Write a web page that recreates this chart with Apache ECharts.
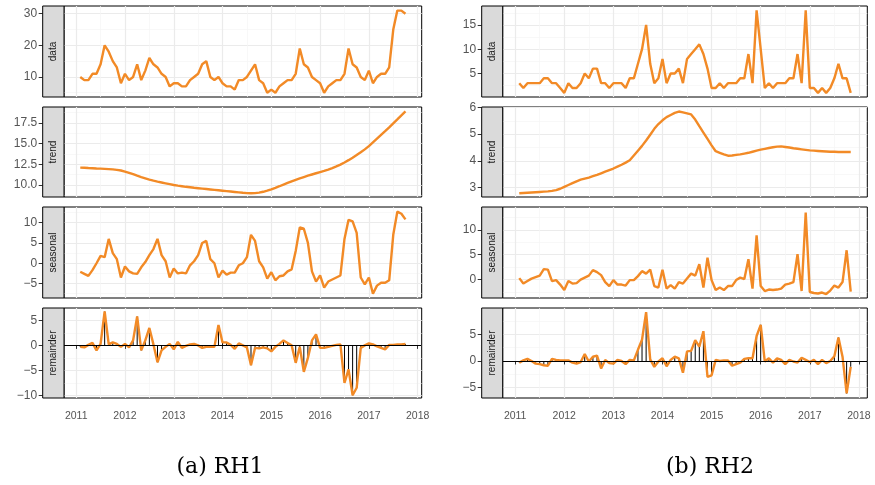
<!DOCTYPE html>
<html>
<head>
<meta charset="utf-8">
<script src="https://cdn.jsdelivr.net/npm/echarts@6/dist/echarts.min.js"></script>
<style>
html, body { margin: 0; padding: 0; background: #fff; }
#chart { width: 875px; height: 485px; }
</style>
</head>
<body>
<div id="chart"></div>
<script>
// monthly series, first month = Feb 2011
var startYear = 2011, startMonth = 2;
var rowNames = ['data', 'trend', 'seasonal', 'remainder'];
var captions = ['(a) RH1', '(b) RH2'];
var yearTicks = [2011, 2012, 2013, 2014, 2015, 2016, 2017, 2018];
var yearMinor = [2011.5, 2012.5, 2013.5, 2014.5, 2015.5, 2016.5, 2017.5];

// RH1 : Feb 2011 - Oct 2017
var rh1Data = [10, 9, 9, 11, 11, 14, 20, 18, 15, 13, 8,
    11, 9, 10, 14, 9, 12, 16, 14, 13, 11, 10, 7,
    8, 8, 7, 7, 9, 10, 11, 14, 15, 10, 9, 10,
    8, 7, 7, 6, 9, 9, 10, 12, 14, 9, 8, 5,
    6, 5, 7, 8, 9, 9, 11, 19, 14, 13, 10, 9,
    8, 5, 7, 8, 9, 9, 11, 19, 14, 13, 10, 9,
    12, 8, 10, 11, 11, 13, 25, 31, 31, 30];
var rh1Trend = [12.10, 12.08, 12.05, 12.03, 12.00, 11.98, 11.95, 11.92, 11.88, 11.83, 11.75,
    11.62, 11.47, 11.30, 11.12, 10.95, 10.80, 10.65, 10.52, 10.40, 10.30, 10.20, 10.10,
    10.00, 9.92, 9.85, 9.78, 9.72, 9.66, 9.61, 9.56, 9.51, 9.46, 9.41, 9.36,
    9.31, 9.26, 9.21, 9.16, 9.11, 9.06, 9.02, 9.00, 9.02, 9.08, 9.18, 9.32,
    9.48, 9.66, 9.85, 10.05, 10.25, 10.45, 10.63, 10.80, 10.96, 11.12, 11.27, 11.42,
    11.56, 11.70, 11.86, 12.04, 12.24, 12.46, 12.72, 13.00, 13.30, 13.62, 13.95, 14.30,
    14.70, 15.15, 15.60, 16.05, 16.50, 16.97, 17.45, 17.93, 18.42, 18.90];
var rh1Seasonal = [-2.1, -2.6, -3.1, -1.7, 0.0, 1.8, 1.5, 6.0, 2.5, 1.0, -3.5,
    -0.8, -2.0, -2.5, -2.6, -1.0, 0.3, 2.0, 3.5, 6.0, 2.0, 0.5, -3.5,
    -1.3, -2.5, -2.3, -2.5, -0.5, 0.5, 2.0, 5.0, 5.5, 1.0, 0.0, -3.5,
    -1.8, -2.8, -2.3, -2.3, -0.5, 0.0, 1.5, 7.0, 5.5, 0.5, -1.0, -3.8,
    -2.2, -4.2, -3.2, -3.0, -2.0, -1.5, 3.0, 8.8, 8.5, 5.0, -2.0, -4.5,
    -3.0, -6.0, -4.5, -4.0, -3.5, -3.0, 6.0, 10.7, 10.3, 7.5, -3.5, -5.2,
    -3.5, -7.5, -5.5, -4.8, -4.8, -4.2, 7.0, 12.7, 12.2, 10.8];
var rh1Remainder = [-0.3, -0.4, 0.1, 0.5, -1.0, 0.3, 6.8, 0.2, 0.6, 0.3, -0.3,
    0.3, -0.4, 1.0, 5.8, -1.0, 1.0, 3.5, 0.2, -3.4, -1.0, -0.3, 0.3,
    -0.8, 0.7, -0.5, -0.1, 0.2, 0.3, 0.0, -0.5, -0.3, -0.3, -0.3, 4.1,
    0.6, 0.6, 0.1, -0.7, 0.4, 0.0, -0.4, -4.0, -0.5, -0.6, -0.4, -0.6,
    -1.2, -0.3, 0.3, 1.0, 0.5, 0.0, -3.5, -0.3, -5.3, -2.5, 1.0, 2.2,
    -0.5, -0.5, -0.3, -0.1, 0.1, 0.2, -7.5, -4.8, -10.0, -8.5, -0.5, 0.0,
    0.4, 0.2, -0.2, -0.5, -0.8, 0.1, 0.1, 0.2, 0.2, 0.3];
var rh1Ticks = [[10, 20, 30], [10, 12.5, 15, 17.5], [-5, 0, 5, 10], [-10, -5, 0, 5]];
var rh1Minor = [[5, 15, 25], [8.75, 11.25, 13.75, 16.25, 18.75], [-7.5, -2.5, 2.5, 7.5, 12.5], [-7.5, -2.5, 2.5]];
var rh1Range = [[3.65, 32.45], [8.55, 19.42], [-8.55, 13.85], [-10.55, 7.5]];

// RH2 : Feb 2011 - Nov 2017
var rh2Data = [3, 2, 3, 3, 3, 3, 4, 4, 3, 3, 2,
    1, 3, 2, 2, 3, 5, 4, 6, 6, 3, 3, 2,
    3, 3, 3, 2, 4, 4, 7, 10, 15, 7, 3, 4,
    8, 3, 5, 5, 6, 3, 8, 9, 10, 11, 9, 6,
    2, 2, 3, 2, 3, 3, 3, 4, 4, 9, 3, 18,
    10, 2, 3, 2, 3, 3, 3, 4, 4, 9, 3, 18,
    2, 2, 1, 2, 1, 2, 4, 7, 4, 4, 1];
var rh2Trend = [2.78, 2.79, 2.80, 2.81, 2.82, 2.83, 2.84, 2.85, 2.87, 2.90, 2.95,
    3.02, 3.09, 3.16, 3.23, 3.29, 3.33, 3.37, 3.42, 3.47, 3.53, 3.59, 3.65,
    3.71, 3.78, 3.85, 3.93, 4.02, 4.20, 4.38, 4.56, 4.76, 4.98, 5.20, 5.38,
    5.52, 5.64, 5.72, 5.80, 5.85, 5.82, 5.78, 5.74, 5.55, 5.30, 5.06, 4.82,
    4.58, 4.36, 4.30, 4.24, 4.19, 4.20, 4.22, 4.24, 4.27, 4.30, 4.34, 4.38,
    4.42, 4.45, 4.48, 4.51, 4.53, 4.54, 4.52, 4.50, 4.47, 4.45, 4.43, 4.41,
    4.39, 4.38, 4.37, 4.36, 4.35, 4.34, 4.34, 4.33, 4.33, 4.33, 4.33];
var rh2Seasonal = [0.3, -0.8, -0.3, 0.2, 0.5, 0.8, 2.1, 2.0, -0.3, -0.1, -1.0,
    -2.1, -0.3, -0.8, -0.7, 0.0, 0.4, 0.8, 1.9, 1.5, 0.9, -0.5, -1.3,
    -0.1, -1.0, -1.0, -1.2, -0.1, -0.1, 0.7, 1.7, 1.2, 2.0, -1.3, -1.6,
    2.0, -1.8, -1.1, -1.8, -0.5, -0.8, 0.2, 1.2, 0.8, 3.1, -1.6, 4.4,
    -0.1, -2.1, -1.6, -2.1, -1.3, -1.3, -0.1, 0.4, 0.1, 4.1, -1.8, 8.9,
    -1.3, -2.3, -2.0, -2.1, -2.0, -1.8, -1.0, -0.8, -0.5, 5.1, -2.3, 13.5,
    -2.5, -2.7, -2.8, -2.6, -2.9, -2.2, -1.2, -1.6, -0.5, 5.9, -2.4];
var rh2Remainder = [-0.3, 0.1, 0.4, 0.0, -0.5, -0.6, -0.8, -0.9, 0.4, 0.2, 0.1,
    0.1, 0.1, -0.3, -0.5, -0.2, 1.3, -0.1, 0.8, 1.0, -1.4, 0.2, -0.4,
    -0.5, 0.2, 0.0, -0.6, 0.2, 0.1, 2.1, 4.0, 9.2, 0.3, -1.1, -0.1,
    0.5, -1.0, 0.2, 0.8, 0.5, -2.2, 1.8, 1.9, 3.9, 2.7, 5.6, -3.0,
    -2.7, 0.2, 0.0, 0.1, 0.1, -0.9, -0.6, -0.3, 0.4, 0.5, 0.5, 4.7,
    6.8, -0.1, 0.5, -0.3, 0.5, 0.2, -0.6, 0.2, -0.1, -0.3, 0.6, 0.2,
    -0.2, 0.2, -0.6, 0.2, -0.4, 0.0, 0.9, 4.4, 0.8, -6.1, -1.1];
var rh2Ticks = [[5, 10, 15], [3, 4, 5, 6], [0, 5, 10], [-5, 0, 5]];
var rh2Minor = [[2.5, 7.5, 12.5, 17.5], [3.5, 4.5, 5.5], [-2.5, 2.5, 7.5, 12.5], [-2.5, 2.5, 7.5]];
var rh2Range = [[0.15, 18.9], [2.64, 6.02], [-3.7, 14.6], [-6.97, 9.97]];

var ORANGE = '#F28A26';
var LABEL = '#555555';
var rowTop = [6, 107, 207, 308];
var rowHeight = [91, 90, 91, 90];

var cols = [
    {series: [rh1Data, rh1Trend, rh1Seasonal, rh1Remainder], ticks: rh1Ticks, minor: rh1Minor, range: rh1Range,
     decimals: [0, 1, 0, 0], gridLeft: 64, gridWidth: 357.7, stripLeft: 42.7, xMin: 2010.75, xMax: 2018.083, captionX: 220},
    {series: [rh2Data, rh2Trend, rh2Seasonal, rh2Remainder], ticks: rh2Ticks, minor: rh2Minor, range: rh2Range,
     decimals: [0, 0, 0, 0], gridLeft: 502.7, gridWidth: 364.6, stripLeft: 481.7, xMin: 2010.746, xMax: 2018.171, captionX: 710}
];

function monthX(i) {
    return startYear + (startMonth - 1 + i) / 12;
}

function fmt(v, d) {
    return (v < 0 ? '\u2212' : '') + Math.abs(v).toFixed(d);
}

var grids = [], xAxes = [], yAxes = [], series = [], graphics = [];

cols.forEach(function (c) {
    for (var r = 0; r < 4; r++) {
        var g = grids.length;
        var isBottom = r === 3;
        grids.push({
            left: c.gridLeft, top: rowTop[r], width: c.gridWidth, height: rowHeight[r],
            show: true, backgroundColor: '#fff', borderColor: '#000', borderWidth: 1
        });
        // major x
        xAxes.push({
            type: 'value', gridIndex: g, min: c.xMin, max: c.xMax, position: 'bottom',
            axisLine: {show: false},
            axisTick: {show: isBottom, length: 3.5, customValues: yearTicks, lineStyle: {color: '#333', width: 1}},
            axisLabel: {show: isBottom, customValues: yearTicks, fontSize: 10.5, color: LABEL, margin: 13,
                fontFamily: 'Liberation Sans, Arial, sans-serif', formatter: function (v) { return String(v); }},
            splitLine: {show: true, lineStyle: {color: '#ebebeb', width: 1.2}}
        });
        // minor x
        xAxes.push({
            type: 'value', gridIndex: g, min: c.xMin, max: c.xMax, position: 'bottom',
            axisLine: {show: false}, axisLabel: {show: false},
            axisTick: {show: false, customValues: yearMinor},
            splitLine: {show: true, lineStyle: {color: '#f5f5f5', width: 0.7}}
        });
        var d = c.decimals[r];
        yAxes.push({
            type: 'value', gridIndex: g, min: c.range[r][0], max: c.range[r][1], position: 'left', offset: c.gridLeft - c.stripLeft,
            axisLine: {show: false},
            axisTick: {show: true, length: 4, customValues: c.ticks[r], lineStyle: {color: '#333', width: 1}},
            axisLabel: {show: true, customValues: c.ticks[r], fontSize: 12, color: LABEL, margin: 5.5,
                fontFamily: 'Liberation Sans, Arial, sans-serif',
                formatter: (function (dd) { return function (v) { return fmt(v, dd); }; })(d)},
            splitLine: {show: true, lineStyle: {color: '#ebebeb', width: 1.2}}
        });
        yAxes.push({
            type: 'value', gridIndex: g, min: c.range[r][0], max: c.range[r][1], position: 'left',
            axisLine: {show: false}, axisLabel: {show: false},
            axisTick: {show: false, customValues: c.minor[r]},
            splitLine: {show: true, lineStyle: {color: '#f5f5f5', width: 0.7}}
        });

        var pts = c.series[r].map(function (v, i) { return [monthX(i), v]; });
        var xi = xAxes.length - 2, yi = yAxes.length - 2;
        if (isBottom) {
            series.push({
                type: 'bar', xAxisIndex: xi, yAxisIndex: yi, data: pts, barWidth: 1, z: 2, silent: true,
                itemStyle: {color: '#000'},
                markLine: {symbol: 'none', silent: true, label: {show: false},
                    lineStyle: {color: '#000', width: 1.2, type: 'solid'}, data: [{yAxis: 0}]}
            });
        }
        series.push({
            type: 'line', xAxisIndex: xi, yAxisIndex: yi, data: pts, showSymbol: false, z: 3, silent: true,
            lineStyle: {color: ORANGE, width: 2.4}, itemStyle: {color: ORANGE}
        });

        // facet strip
        graphics.push({
            type: 'rect', z: 10,
            shape: {x: c.stripLeft, y: rowTop[r], width: c.gridLeft - c.stripLeft, height: rowHeight[r]},
            style: {fill: '#dadada', stroke: '#000', lineWidth: 1}
        });
        graphics.push({
            type: 'text', z: 11,
            x: (c.stripLeft + c.gridLeft) / 2, y: rowTop[r] + rowHeight[r] / 2, rotation: Math.PI / 2,
            style: {text: rowNames[r], fill: '#1a1a1a', font: '10px "Liberation Sans", Arial, sans-serif',
                textAlign: 'center', textVerticalAlign: 'middle'}
        });
    }
});

captions.forEach(function (t, k) {
    graphics.push({
        type: 'text', z: 11, x: cols[k].captionX, y: 467,
        style: {text: t, fill: '#000', font: '22px "DejaVu Serif", serif', textAlign: 'center', textVerticalAlign: 'middle'}
    });
});

var chart = echarts.init(document.getElementById('chart'), null, {renderer: 'canvas'});
chart.setOption({
    animation: false,
    backgroundColor: '#fff',
    textStyle: {fontFamily: 'Liberation Sans, Arial, sans-serif'},
    tooltip: {show: false},
    grid: grids,
    xAxis: xAxes,
    yAxis: yAxes,
    series: series,
    graphic: graphics
});
</script>
</body>
</html>
